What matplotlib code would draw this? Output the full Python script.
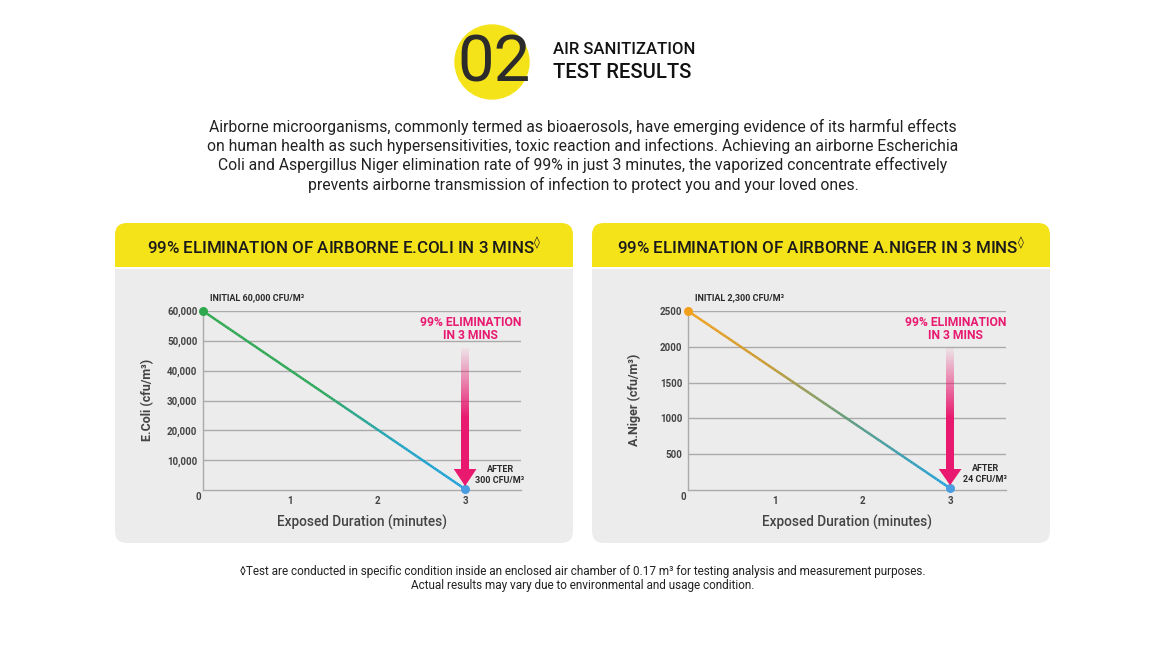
import matplotlib
matplotlib.use("Agg")
from matplotlib import pyplot as plt
from matplotlib.patches import FancyBboxPatch, Rectangle, Circle, Polygon
from matplotlib.collections import LineCollection
from matplotlib.colors import LinearSegmentedColormap
import numpy as np

plt.rcParams['font.family'] = ['Roboto', 'DejaVu Sans']

# data
minutes = [0, 3]
ecoli = [60000, 300]
aniger = [2500, 24]
ecoli_ticks = [10000, 20000, 30000, 40000, 50000, 60000]
aniger_ticks = [500, 1000, 1500, 2000, 2500]
x_ticks = [1, 2, 3]

W, H = 1170, 670
PINK = '#e8196f'
YELLOW = '#f5e31a'
GRAY_BG = '#edecec'

fig = plt.figure(figsize=(W / 100, H / 100), dpi=100)
fig.patch.set_facecolor('white')

# background axes in pixel units
bg = fig.add_axes([0, 0, 1, 1])
bg.set_xlim(0, W)
bg.set_ylim(H, 0)
bg.axis('off')

# title badge
bg.add_patch(Circle((492, 62), 37, color=YELLOW, zorder=1))
bg.text(494, 64, '02', fontsize=47, fontweight='normal', color='#2b2b2b',
        ha='center', va='center', zorder=2)
bg.text(553, 50, 'AIR SANITIZATION', fontsize=12, fontweight='medium', color='#111',
        ha='left', va='center')
bg.text(553, 72, 'TEST RESULTS', fontsize=14.6, fontweight='medium', color='#111',
        ha='left', va='center')

para = ["Airborne microorganisms, commonly termed as bioaerosols, have emerging evidence of its harmful effects",
        "on human health as such hypersensitivities, toxic reaction and infections. Achieving an airborne Escherichia",
        "Coli and Aspergillus Niger elimination rate of 99% in just 3 minutes, the vaporized concentrate effectively",
        "prevents airborne transmission of infection to protect you and your loved ones."]
for i, line in enumerate(para):
    bg.text(583, 127 + i * 19.2, line, fontsize=11.35, color='#222', ha='center', va='center')

bg.text(583, 572, '\u25caTest are conducted in specific condition inside an enclosed air chamber of 0.17 m\u00b3 for testing analysis and measurement purposes.',
        fontsize=8.5, color='#222', ha='center', va='center')
bg.text(583, 586, 'Actual results may vary due to environmental and usage condition.',
        fontsize=8.5, color='#222', ha='center', va='center')


def panel(x0, x1, title):
    bg.add_patch(FancyBboxPatch((x0 + 12, 242), x1 - x0 - 24, 543 - 242 - 12,
                                boxstyle='round,pad=12', fc=GRAY_BG, ec='none', zorder=1))
    bg.add_patch(FancyBboxPatch((x0 + 12, 235), x1 - x0 - 24, 20,
                                boxstyle='round,pad=12', fc=YELLOW, ec='none', zorder=2))
    bg.add_patch(Rectangle((x0, 250), x1 - x0, 17, fc=YELLOW, ec='none', zorder=2))
    bg.add_patch(Rectangle((x0, 267), x1 - x0, 2, fc='white', ec='none', zorder=3))
    bg.text((x0 + x1) / 2, 247, title, fontsize=12.2, fontweight='medium', color='#1a1a1a',
            ha='center', va='center', zorder=4)


panel(115, 573, '99% ELIMINATION OF AIRBORNE E.COLI IN 3 MINS$^{\u25ca}$')
panel(592, 1050, '99% ELIMINATION OF AIRBORNE A.NIGER IN 3 MINS$^{\u25ca}$')


def chart(left_px, ymax, yvals, yticks, yfmt, cmap, ylabel, ylabel_x, initial, after, end_color, start_color):
    top_px, bot_px, right_px = 311, 490, left_px + 318
    ax = fig.add_axes([left_px / W, 1 - bot_px / H, (right_px - left_px) / W, (bot_px - top_px) / H])
    ax.set_facecolor('none')
    for s in ['top', 'right']:
        ax.spines[s].set_visible(False)
    for s in ['left', 'bottom']:
        ax.spines[s].set_color('#aaaaaa')
        ax.spines[s].set_linewidth(1)
    ax.set_yticks(yticks)
    ax.set_yticklabels([yfmt(v) for v in yticks])
    ax.set_xticks(x_ticks)
    ax.tick_params(length=0, labelsize=7, labelcolor='#444', pad=4)
    for lab in ax.get_xticklabels() + ax.get_yticklabels():
        lab.set_fontweight('bold')
    ax.grid(axis='y', color='#aaaaaa', linewidth=1)
    ax.set_axisbelow(True)
    ax.text(-0.05, -ymax * 0.01, '0', fontsize=7, fontweight='bold', color='#444',
            ha='center', va='top')

    # gradient line
    t = np.linspace(0, 1, 120)
    xs = minutes[0] + (minutes[1] - minutes[0]) * t
    ys = yvals[0] + (yvals[1] - yvals[0]) * t
    pts = np.column_stack([xs, ys]).reshape(-1, 1, 2)
    segs = np.concatenate([pts[:-1], pts[1:]], axis=1)
    lc = LineCollection(segs, colors=cmap(t[:-1]), linewidth=1.8, zorder=3)
    ax.add_collection(lc)
    ax.scatter([minutes[0]], [yvals[0]], s=30, color=start_color, zorder=4, clip_on=False)
    ax.scatter([minutes[1]], [yvals[1]], s=30, color=end_color, zorder=4, clip_on=False)

    # arrow
    per_px = ymax / (bot_px - top_px)
    bar_top = ymax - 37 * per_px
    head_base = ymax - 158 * per_px
    tip = yvals[1] + 3 * per_px
    grad = np.zeros((100, 1, 4))
    grad[..., :3] = matplotlib.colors.to_rgb(PINK)
    grad[:, 0, 3] = np.clip(np.linspace(0.05, 1.7, 100), 0, 1)
    ax.imshow(grad, extent=[3 - 0.042, 3 + 0.042, head_base, bar_top], aspect='auto',
              origin='upper', zorder=5, interpolation='bilinear')
    ax.add_patch(Polygon([[3 - 0.13, head_base], [3 + 0.13, head_base], [3, tip]],
                         closed=True, fc=PINK, ec='none', zorder=5))
    ax.set_xlim(0, 3.64)
    ax.set_ylim(0, ymax)

    ax.text(0.08, ymax + 9 * per_px, initial, fontsize=6.5, fontweight='bold', color='#2a2a2a',
            ha='left', va='bottom')
    ax.text(3.06, ymax - 5 * per_px, '99% ELIMINATION\nIN 3 MINS', fontsize=8.7, fontweight='bold',
            color=PINK, ha='center', va='top', linespacing=1.0)
    ax.text(3.4, yvals[1] + 4 * per_px, after, fontsize=6.5, fontweight='bold', color='#2a2a2a',
            ha='center', va='bottom', linespacing=1.3)
    ax.set_xlabel('Exposed Duration (minutes)', fontsize=9.8, fontweight='medium', color='#444',
                  labelpad=7)
    bg.text(ylabel_x, 400, ylabel, rotation=90, fontsize=9, fontweight='bold', color='#444',
            ha='center', va='center')
    return ax


green_blue = LinearSegmentedColormap.from_list('gb', [(0, '#2ea84e'), (0.45, '#2aa659'),
                                                      (0.75, '#1ea3c4'), (1, '#1ba0dd')])
orange_blue = LinearSegmentedColormap.from_list('ob', [(0, '#f2a01c'), (0.3, '#c79a30'),
                                                       (0.6, '#5f9a7a'), (1, '#1ba0de')])

chart(203, 60000, ecoli, ecoli_ticks, lambda v: f'{v:,}', green_blue, 'E.Coli (cfu/m\u00b3)', 148,
      'INITIAL 60,000 CFU/M\u00b3', 'AFTER\n300 CFU/M\u00b3', '#4a9de0', '#2ea84e')
chart(688, 2500, aniger, aniger_ticks, lambda v: f'{v}', orange_blue, 'A.Niger (cfu/m\u00b3)', 634,
      'INITIAL 2,300 CFU/M\u00b3', 'AFTER\n24 CFU/M\u00b3', '#4a9de0', '#f2a01c')

fig.savefig('out.png', dpi=100)
